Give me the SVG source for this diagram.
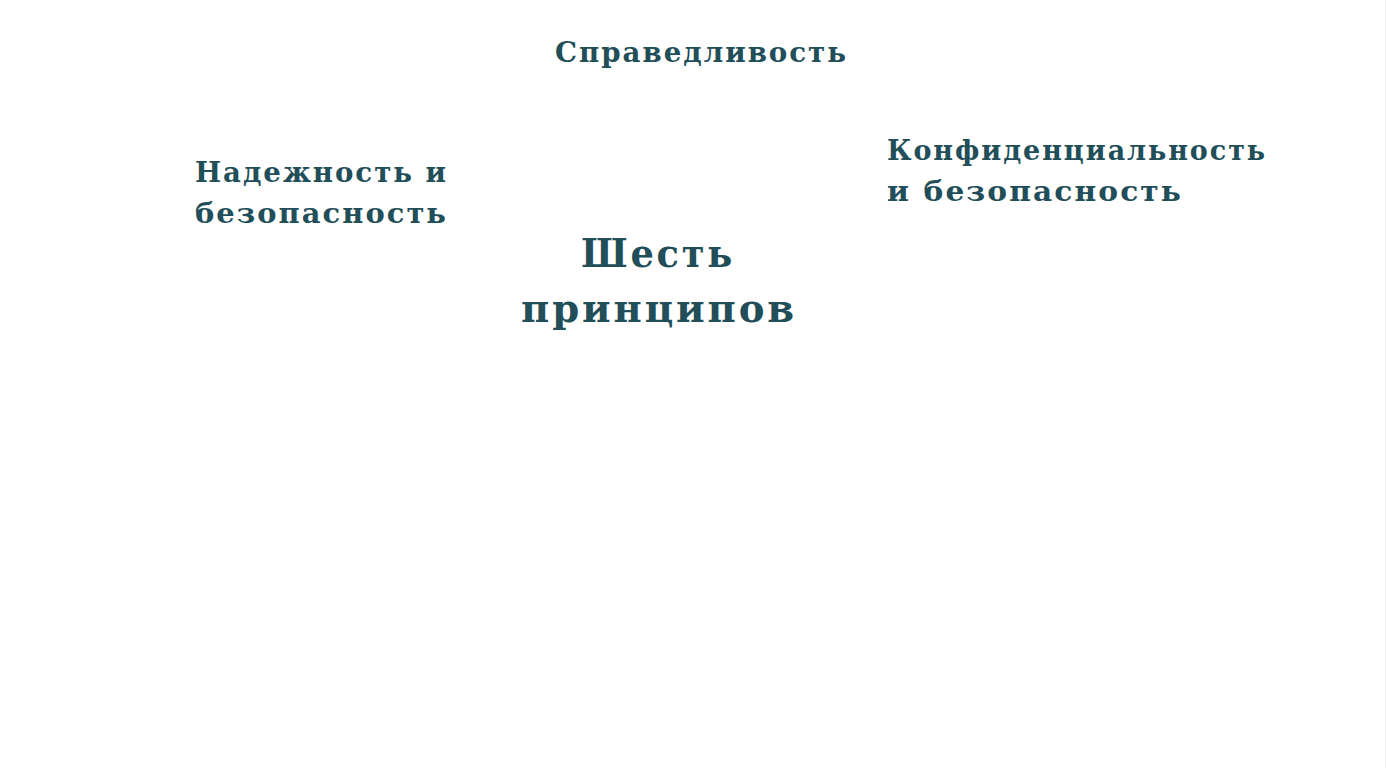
<svg xmlns="http://www.w3.org/2000/svg" width="1386" height="768" viewBox="0 0 1386 768">
<style>
.t{font-family:"DejaVu Serif","Liberation Serif",serif;font-weight:bold;fill:#214e58;letter-spacing:2px;}
.s{font-size:28px;}
.b{font-size:40px;letter-spacing:3px;}
</style>
<rect width="1386" height="768" fill="#ffffff"/>
<line x1="1385.5" y1="0" x2="1385.5" y2="768" stroke="#ececec" stroke-width="1"/>
<g id="center">
<text class="t b" x="581" y="267" textLength="154" lengthAdjust="spacingAndGlyphs">Шесть</text>
<text class="t b" x="521" y="322" textLength="276" lengthAdjust="spacingAndGlyphs">принципов</text>
</g>
<g id="fairness">
<text class="t s" x="555" y="62" textLength="293" lengthAdjust="spacingAndGlyphs">Справедливость</text>
</g>
<g id="reliability">
<text class="t s" x="195" y="182" textLength="253" lengthAdjust="spacingAndGlyphs">Надежность и</text>
<text class="t s" x="195" y="223" textLength="253" lengthAdjust="spacingAndGlyphs">безопасность</text>
</g>
<g id="privacy">
<text class="t s" x="887" y="160" textLength="380" lengthAdjust="spacingAndGlyphs">Конфиденциальность</text>
<text class="t s" x="887" y="201" textLength="296" lengthAdjust="spacingAndGlyphs">и безопасность</text>
</g>
<g id="connectors"></g>
</svg>
